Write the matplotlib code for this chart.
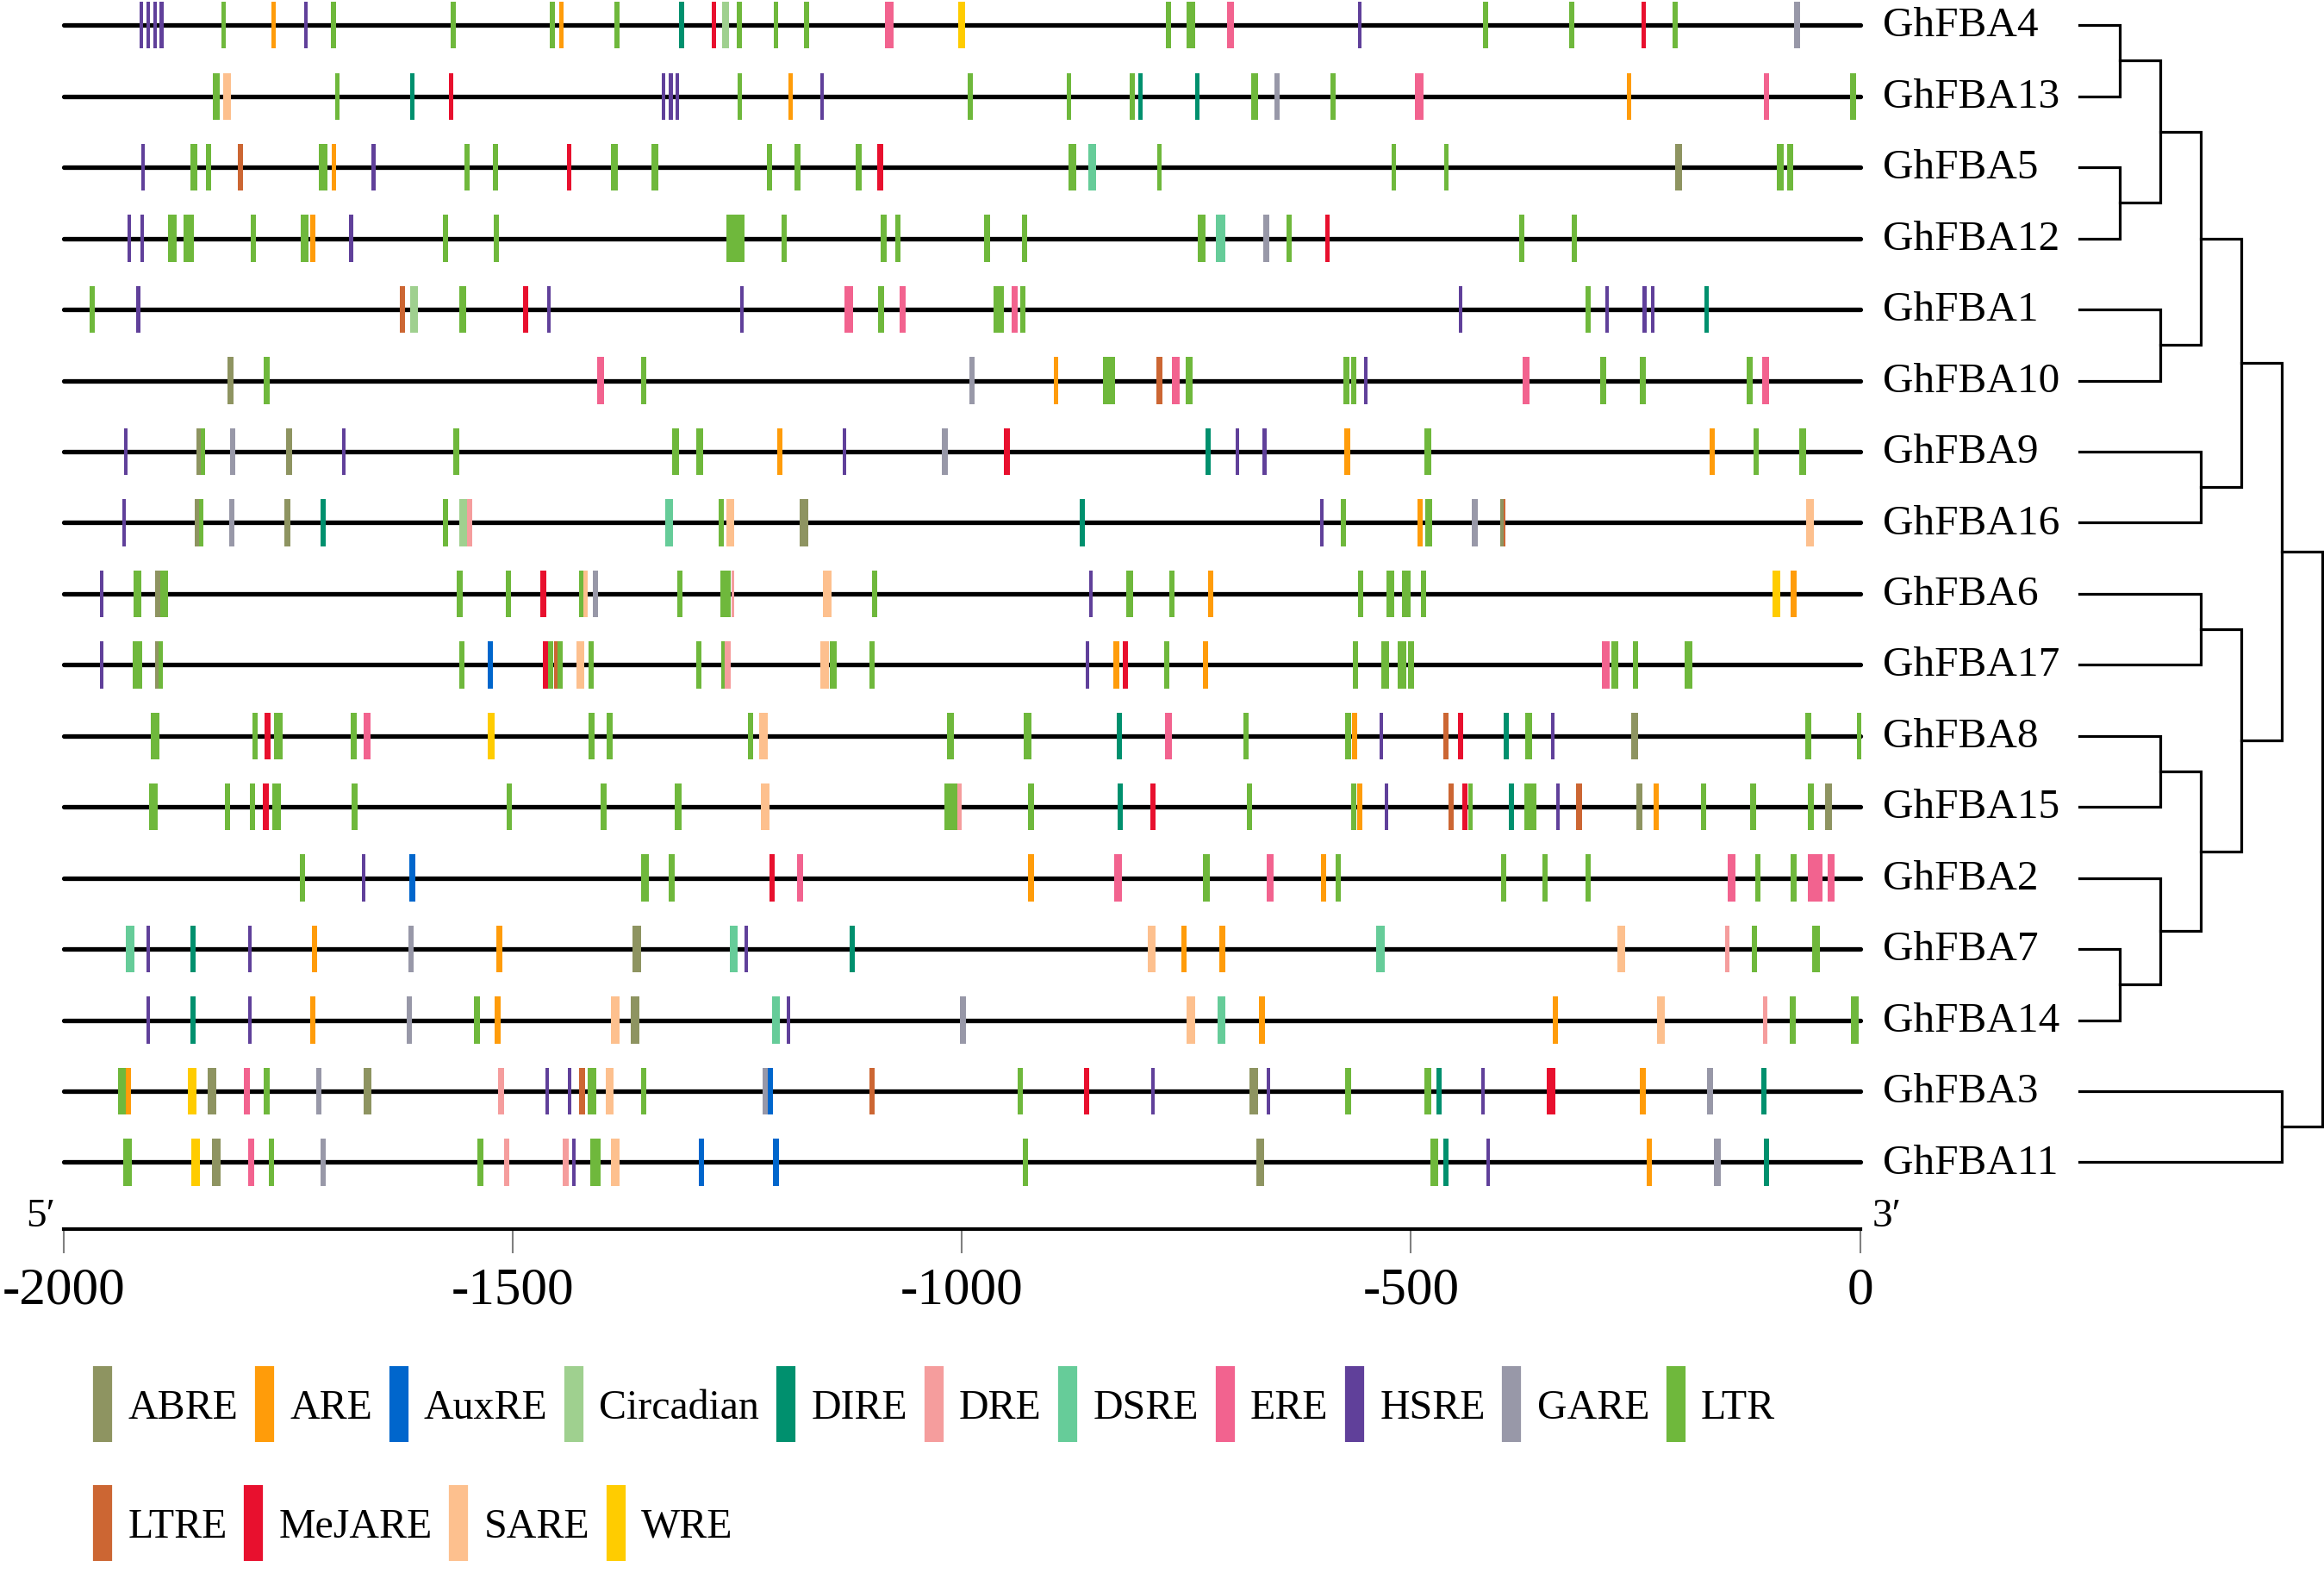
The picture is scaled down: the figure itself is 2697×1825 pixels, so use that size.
import matplotlib
matplotlib.use('Agg')
import matplotlib.pyplot as plt
from matplotlib.lines import Line2D

plt.rcParams['font.family'] = ['Liberation Serif', 'DejaVu Serif']
plt.rcParams['axes.unicode_minus'] = False

genes = ['GhFBA4', 'GhFBA13', 'GhFBA5', 'GhFBA12', 'GhFBA1', 'GhFBA10', 'GhFBA9',
         'GhFBA16', 'GhFBA6', 'GhFBA17', 'GhFBA8', 'GhFBA15', 'GhFBA2', 'GhFBA7',
         'GhFBA14', 'GhFBA3', 'GhFBA11']

elements = ['ABRE', 'ARE', 'AuxRE', 'Circadian', 'DIRE', 'DRE', 'DSRE', 'ERE',
            'HSRE', 'GARE', 'LTR', 'LTRE', 'MeJARE', 'SARE', 'WRE']
element_colors = ['#8e9461', '#ff9c0a', '#0066cc', '#9fd08f', '#00906e', '#f59d9d',
                  '#66cc99', '#f2638f', '#60409a', '#9898a8', '#6fb83c', '#cc6633',
                  '#e8102e', '#fdc08e', '#ffcc00']

# (position, element, length in bp; default length 4)
fba4 = [(-1914, 'HSRE'), (-1906, 'HSRE'), (-1898, 'HSRE'), (-1891, 'HSRE'), (-1822, 'LTR', 5),
        (-1766, 'ARE', 5), (-1730, 'HSRE'), (-1700, 'LTR', 6), (-1566, 'LTR', 6), (-1456, 'LTR', 5),
        (-1446, 'ARE', 5), (-1384, 'LTR', 6), (-1312, 'DIRE', 5), (-1276, 'MeJARE', 5),
        (-1263, 'Circadian', 8), (-1248, 'LTR', 6), (-1207, 'LTR', 5), (-1173, 'LTR', 6),
        (-1081, 'ERE', 9), (-1000, 'WRE', 8), (-770, 'LTR', 5), (-745, 'LTR', 9), (-701, 'ERE', 8),
        (-557, 'HSRE'), (-417, 'LTR', 5), (-321, 'LTR', 5), (-241, 'MeJARE', 5), (-206, 'LTR', 5),
        (-70, 'GARE', 7)]
fba13 = [(-1830, 'LTR', 8), (-1818, 'SARE', 8), (-1695, 'LTR', 5), (-1612, 'DIRE', 5),
         (-1569, 'MeJARE', 5), (-1332, 'HSRE'), (-1324, 'HSRE'), (-1317, 'HSRE'), (-1247, 'LTR', 5),
         (-1191, 'ARE', 5), (-1156, 'HSRE'), (-991, 'LTR', 6), (-881, 'LTR', 5), (-810, 'LTR', 6),
         (-801, 'DIRE', 5), (-738, 'DIRE', 5), (-674, 'LTR', 7), (-649, 'GARE', 6), (-587, 'LTR', 6),
         (-491, 'ERE', 9), (-257, 'ARE', 5), (-104, 'ERE', 6), (-8, 'LTR', 7)]
fba5 = [(-1912, 'HSRE'), (-1855, 'LTR', 8), (-1839, 'LTR', 6), (-1803, 'LTRE', 6), (-1711, 'LTR', 9),
        (-1699, 'ARE', 5), (-1655, 'HSRE'), (-1551, 'LTR', 6), (-1519, 'LTR', 6), (-1437, 'MeJARE', 5),
        (-1387, 'LTR', 8), (-1342, 'LTR', 8), (-1214, 'LTR', 6), (-1183, 'LTR', 6), (-1115, 'LTR', 6),
        (-1091, 'MeJARE', 6), (-877, 'LTR', 8), (-855, 'DSRE', 9), (-780, 'LTR', 5), (-519, 'LTR', 5),
        (-461, 'LTR', 5), (-202, 'ABRE', 8), (-89, 'LTR', 7), (-78, 'LTR', 7)]
fba12 = [(-1927, 'HSRE'), (-1913, 'HSRE'), (-1879, 'LTR', 9), (-1861, 'LTR', 11), (-1789, 'LTR', 6),
         (-1732, 'LTR', 9), (-1723, 'ARE', 6), (-1680, 'HSRE'), (-1575, 'LTR', 6), (-1518, 'LTR', 6),
         (-1252, 'LTR', 20), (-1198, 'LTR', 6), (-1087, 'LTR', 6), (-1071, 'LTR', 6), (-972, 'LTR', 6),
         (-930, 'LTR', 6), (-733, 'LTR', 9), (-712, 'DSRE', 10), (-661, 'GARE', 7), (-636, 'LTR', 6),
         (-593, 'MeJARE', 5), (-377, 'LTR', 6), (-318, 'LTR', 6)]
fba1 = [(-1968, 'LTR', 6), (-1917, 'HSRE'), (-1623, 'LTRE', 6), (-1610, 'Circadian', 8),
        (-1556, 'LTR', 8), (-1486, 'MeJARE', 6), (-1460, 'HSRE'), (-1245, 'HSRE'), (-1126, 'ERE', 10),
        (-1090, 'LTR', 6), (-1066, 'ERE', 7), (-959, 'LTR', 11), (-941, 'ERE', 7), (-932, 'LTR', 6),
        (-445, 'HSRE'), (-303, 'LTR', 6), (-282, 'HSRE'), (-240, 'HSRE'), (-231, 'HSRE'),
        (-171, 'DIRE', 5)]
fba10 = [(-1814, 'ABRE', 7), (-1774, 'LTR', 6), (-1402, 'ERE', 8), (-1354, 'LTR', 6), (-989, 'GARE', 6),
         (-895, 'ARE', 5), (-836, 'LTR', 13), (-780, 'LTRE', 6), (-762, 'ERE', 8), (-747, 'LTR', 7),
         (-572, 'LTR', 6), (-564, 'LTR', 6), (-550, 'HSRE'), (-372, 'ERE', 8), (-286, 'LTR', 6),
         (-242, 'LTR', 6), (-123, 'LTR', 6), (-105, 'ERE', 8)]
fba9 = [(-1931, 'HSRE'), (-1849, 'ABRE', 6), (-1845, 'LTR', 5), (-1812, 'GARE', 6), (-1749, 'ABRE', 6),
        (-1688, 'HSRE'), (-1563, 'LTR', 6), (-1319, 'LTR', 8), (-1292, 'LTR', 8), (-1203, 'ARE', 6),
        (-1131, 'HSRE'), (-1019, 'GARE', 7), (-950, 'MeJARE', 6), (-726, 'DIRE', 6), (-693, 'HSRE'),
        (-663, 'HSRE'), (-571, 'ARE', 6), (-481, 'LTR', 8), (-165, 'ARE', 6), (-116, 'LTR', 6),
        (-64, 'LTR', 8)]
fba16 = [(-1933, 'HSRE'), (-1851, 'ABRE', 6), (-1847, 'LTR', 5), (-1813, 'GARE', 6), (-1751, 'ABRE', 6),
         (-1711, 'DIRE', 6), (-1575, 'LTR', 6), (-1555, 'Circadian', 9), (-1548, 'DRE', 5),
         (-1326, 'DSRE', 9), (-1268, 'LTR', 6), (-1258, 'SARE', 8), (-1176, 'ABRE', 9), (-866, 'DIRE', 6),
         (-599, 'HSRE'), (-575, 'LTR', 6), (-490, 'ARE', 6), (-480, 'LTR', 8), (-429, 'GARE', 7),
         (-398, 'ABRE', 6), (-396, 'LTRE', 2), (-56, 'SARE', 9)]
fba6 = [(-1958, 'HSRE'), (-1918, 'LTR', 9), (-1895, 'ABRE', 7), (-1888, 'LTR', 9), (-1559, 'LTR', 6),
        (-1505, 'LTR', 6), (-1466, 'MeJARE', 6), (-1423, 'LTR', 6), (-1419, 'SARE', 4), (-1408, 'GARE', 6),
        (-1314, 'LTR', 6), (-1263, 'LTR', 11), (-1255, 'DRE', 3), (-1150, 'SARE', 9), (-1097, 'LTR', 6),
        (-856, 'HSRE'), (-813, 'LTR', 8), (-766, 'LTR', 6), (-723, 'ARE', 6), (-556, 'LTR', 6),
        (-523, 'LTR', 9), (-505, 'LTR', 10), (-486, 'LTR', 6), (-93, 'WRE', 9), (-74, 'ARE', 6)]
fba17 = [(-1958, 'HSRE'), (-1918, 'LTR', 10), (-1896, 'ABRE', 5), (-1892, 'LTR', 5), (-1557, 'LTR', 6),
         (-1525, 'AuxRE', 6), (-1464, 'MeJARE', 6), (-1458, 'LTR', 5), (-1452, 'LTRE', 4),
         (-1447, 'LTR', 6), (-1425, 'SARE', 9), (-1413, 'LTR', 6), (-1293, 'LTR', 6), (-1265, 'LTR', 6),
         (-1261, 'DRE', 7), (-1153, 'SARE', 9), (-1143, 'LTR', 8), (-1100, 'LTR', 6), (-860, 'HSRE'),
         (-828, 'ARE', 6), (-818, 'MeJARE', 6), (-772, 'LTR', 6), (-729, 'ARE', 6), (-562, 'LTR', 6),
         (-529, 'LTR', 9), (-510, 'LTR', 9), (-500, 'LTR', 6), (-283, 'ERE', 8), (-273, 'LTR', 8),
         (-250, 'LTR', 6), (-191, 'LTR', 9)]
fba8 = [(-1898, 'LTR', 10), (-1787, 'LTR', 6), (-1773, 'MeJARE', 6), (-1761, 'LTR', 10), (-1677, 'LTR', 7),
        (-1662, 'ERE', 8), (-1524, 'WRE', 8), (-1412, 'LTR', 7), (-1392, 'LTR', 7), (-1235, 'LTR', 6),
        (-1221, 'SARE', 9), (-1013, 'LTR', 8), (-927, 'LTR', 9), (-825, 'DIRE', 6), (-770, 'ERE', 7),
        (-684, 'LTR', 6), (-570, 'LTR', 6), (-563, 'ARE', 6), (-533, 'HSRE'), (-461, 'LTRE', 6),
        (-445, 'MeJARE', 6), (-394, 'DIRE', 6), (-369, 'LTR', 7), (-342, 'HSRE'), (-251, 'ABRE', 7),
        (-58, 'LTR', 7), (-1, 'LTR', 5)]
fba15 = [(-1900, 'LTR', 10), (-1818, 'LTR', 6), (-1790, 'LTR', 6), (-1775, 'MeJARE', 6), (-1763, 'LTR', 10),
         (-1676, 'LTR', 7), (-1504, 'LTR', 6), (-1399, 'LTR', 7), (-1316, 'LTR', 7), (-1219, 'SARE', 9),
         (-1012, 'LTR', 15), (-1003, 'DRE', 5), (-923, 'LTR', 6), (-824, 'DIRE', 6), (-787, 'MeJARE', 6),
         (-680, 'LTR', 6), (-564, 'LTR', 6), (-557, 'ARE', 6), (-527, 'HSRE'), (-455, 'LTRE', 6),
         (-440, 'MeJARE', 6), (-434, 'LTR', 5), (-388, 'DIRE', 6), (-367, 'LTR', 13), (-336, 'HSRE'),
         (-313, 'LTRE', 6), (-246, 'ABRE', 7), (-227, 'ARE', 6), (-174, 'LTR', 6), (-119, 'LTR', 6),
         (-55, 'LTR', 7), (-35, 'ABRE', 7)]
fba2 = [(-1734, 'LTR', 6), (-1666, 'HSRE'), (-1612, 'AuxRE', 6), (-1353, 'LTR', 8), (-1323, 'LTR', 6),
        (-1211, 'MeJARE', 6), (-1180, 'ERE', 7), (-923, 'ARE', 6), (-826, 'ERE', 8), (-728, 'LTR', 8),
        (-657, 'ERE', 8), (-597, 'ARE', 6), (-581, 'LTR', 6), (-397, 'LTR', 6), (-351, 'LTR', 6),
        (-303, 'LTR', 6), (-143, 'ERE', 8), (-114, 'LTR', 6), (-74, 'LTR', 6), (-50, 'ERE', 16),
        (-32, 'ERE', 8)]
fba7 = [(-1926, 'DSRE', 9), (-1906, 'HSRE'), (-1856, 'DIRE', 6), (-1793, 'HSRE'), (-1721, 'ARE', 6),
        (-1613, 'GARE', 6), (-1515, 'ARE', 6), (-1362, 'ABRE', 9), (-1254, 'DSRE', 9), (-1240, 'HSRE'),
        (-1122, 'DIRE', 6), (-789, 'SARE', 9), (-753, 'ARE', 6), (-710, 'ARE', 6), (-534, 'DSRE', 9),
        (-266, 'SARE', 9), (-148, 'DRE', 5), (-118, 'LTR', 6), (-49, 'LTR', 9)]
fba14 = [(-1906, 'HSRE'), (-1856, 'DIRE', 6), (-1793, 'HSRE'), (-1723, 'ARE', 6), (-1615, 'GARE', 6),
         (-1540, 'LTR', 6), (-1517, 'ARE', 6), (-1386, 'SARE', 9), (-1364, 'ABRE', 9), (-1207, 'DSRE', 9),
         (-1193, 'HSRE'), (-999, 'GARE', 7), (-745, 'SARE', 9), (-711, 'DSRE', 9), (-666, 'ARE', 6),
         (-339, 'ARE', 6), (-222, 'SARE', 9), (-106, 'DRE', 5), (-75, 'LTR', 6), (-6, 'LTR', 9)]
fba3 = [(-1935, 'LTR', 9), (-1928, 'ARE', 5), (-1857, 'WRE', 9), (-1835, 'ABRE', 9), (-1796, 'ERE', 7),
        (-1774, 'LTR', 6), (-1716, 'GARE', 6), (-1662, 'ABRE', 9), (-1513, 'DRE', 6), (-1462, 'HSRE'),
        (-1437, 'HSRE'), (-1423, 'LTRE', 6), (-1412, 'LTR', 9), (-1392, 'SARE', 9), (-1354, 'LTR', 6),
        (-1218, 'GARE', 7), (-1213, 'AuxRE', 6), (-1100, 'LTRE', 6), (-935, 'LTR', 6), (-861, 'MeJARE', 6),
        (-787, 'HSRE'), (-675, 'ABRE', 9), (-659, 'HSRE'), (-570, 'LTR', 6), (-481, 'LTR', 8),
        (-469, 'DIRE', 6), (-420, 'HSRE'), (-344, 'MeJARE', 9), (-242, 'ARE', 6), (-167, 'GARE', 7),
        (-107, 'DIRE', 6)]
fba11 = [(-1929, 'LTR', 9), (-1853, 'WRE', 9), (-1830, 'ABRE', 9), (-1791, 'ERE', 7), (-1769, 'LTR', 6),
         (-1711, 'GARE', 6), (-1536, 'LTR', 6), (-1507, 'DRE', 6), (-1441, 'DRE', 6), (-1432, 'HSRE'),
         (-1408, 'LTR', 11), (-1386, 'SARE', 9), (-1290, 'AuxRE', 6), (-1207, 'AuxRE', 6),
         (-929, 'LTR', 6), (-668, 'ABRE', 9), (-474, 'LTR', 8), (-461, 'DIRE', 6), (-414, 'HSRE'),
         (-235, 'ARE', 6), (-159, 'GARE', 7), (-104, 'DIRE', 6)]

sites = [fba4, fba13, fba5, fba12, fba1, fba10, fba9, fba16, fba6, fba17,
         fba8, fba15, fba2, fba7, fba14, fba3, fba11]

# tree merges: (child a, child b, height); leaves are 0..16, new nodes numbered from 17
tree_merges = [(0, 1, 1), (2, 3, 1), (17, 18, 2), (4, 5, 2), (19, 20, 3), (6, 7, 3),
               (21, 22, 4), (8, 9, 3), (10, 11, 2), (13, 14, 1), (12, 26, 2), (25, 27, 3),
               (24, 28, 4), (23, 29, 5), (15, 16, 5), (30, 31, 6)]

x_ticks = [-2000, -1500, -1000, -500, 0]
x_tick_labels = ['-2000', '-1500', '-1000', '-500', '0']

color_of = dict(zip(elements, element_colors))

fig = plt.figure(figsize=(26.97, 18.25), dpi=100)
ax = fig.add_axes([0.02742, 0.21866, 0.77296, 0.78134])

for row, gene_sites in enumerate(sites):
    ax.plot([-2000, 0], [row, row], color='black', lw=3.8, solid_capstyle='round',
            zorder=1, clip_on=False)
    pos = [s[0] for s in gene_sites]
    widths = [s[2] if len(s) > 2 else 4 for s in gene_sites]
    cols = [color_of[s[1]] for s in gene_sites]
    ax.bar(pos, 0.66, width=widths, bottom=row - 0.33, color=cols, linewidth=0,
           zorder=2, clip_on=False)
    ax.annotate(genes[row], xy=(0, row), xytext=(19, -9.5), textcoords='offset points',
                ha='left', va='baseline', fontsize=35.5, annotation_clip=False)

ax.set_xlim(-2000, 0)
ax.set_ylim(16.94, -0.355)
for side in ['top', 'left', 'right']:
    ax.spines[side].set_visible(False)
ax.spines['bottom'].set_linewidth(3)
ax.set_yticks([])
ax.set_xticks(x_ticks)
ax.set_xticklabels(x_tick_labels)
ax.tick_params(axis='x', direction='out', length=20, width=1.5, color='#808080',
               pad=12, labelsize=44)
ax.annotate('5\u2032', xy=(0, 0), xycoords='axes fraction', xytext=(-7, 2),
            textcoords='offset points', ha='right', va='baseline', fontsize=34)
ax.annotate('3\u2032', xy=(1, 0), xycoords='axes fraction', xytext=(10, 2),
            textcoords='offset points', ha='left', va='baseline', fontsize=34)

# dendrogram
tax = fig.add_axes([0.89477, 0.21866, 0.10459, 0.78134])
node_y = list(range(len(genes)))
node_h = [0] * len(genes)
for a, b, h in tree_merges:
    tax.plot([node_h[a], h, h, node_h[b]], [node_y[a], node_y[a], node_y[b], node_y[b]],
             color='black', lw=2.3, solid_joinstyle='miter', clip_on=False)
    node_y.append((node_y[a] + node_y[b]) / 2)
    node_h.append(h)
tax.set_xlim(0, 6)
tax.set_ylim(16.94, -0.355)
tax.axis('off')

# legend, two rows
row1 = elements[:11]
row2 = elements[11:]
for labels, ypos in [(row1, 0.1046), (row2, 0.0292)]:
    handles = [Line2D([], [], color=color_of[e], marker='|', linestyle='None',
                      markersize=64, markeredgewidth=16) for e in labels]
    fig.legend(handles, labels, loc='center left', bbox_to_anchor=(0.0397, ypos),
               ncol=len(labels), frameon=False, fontsize=34.5, handlelength=0.5,
               handletextpad=0.36, columnspacing=0.39, borderpad=0, borderaxespad=0)

fig.savefig('out.png', dpi=100)
